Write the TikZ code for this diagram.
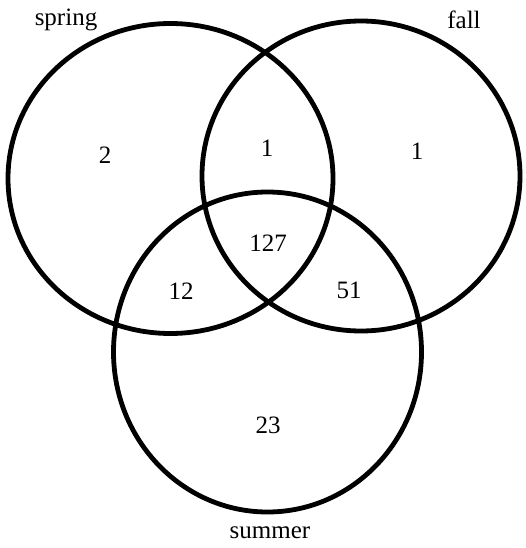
\documentclass[tikz,border=0pt]{standalone}
\usepackage{fontspec}
\setmainfont{Liberation Serif}
\begin{document}
\begin{tikzpicture}[x=1pt,y=-1pt,
  ring/.style={line width=4.8pt},
  lbl/.style={font=\fontsize{25}{28}\selectfont, inner sep=0pt}]
\useasboundingbox (0,0) rectangle (525,548);
\draw[ring] (170.5,178.5) ellipse [x radius=162.5, y radius=155];
\draw[ring] (361,176) ellipse [x radius=159, y radius=155];
\draw[ring] (267.5,352) ellipse [x radius=154, y radius=160];
\node[lbl] (spring) at (66,20) {spring};
\node[lbl] (fall) at (464,20) {fall};
\node[lbl] (summer) at (270,533) {summer};
\node[lbl] (a) at (105,155) {2};
\node[lbl] (b) at (267,148) {1};
\node[lbl] (c) at (417,151) {1};
\node[lbl] (d) at (268,243) {127};
\node[lbl] (e) at (181,291) {12};
\node[lbl] (f) at (349,290) {51};
\node[lbl] (g) at (268,425) {23};
\end{tikzpicture}
\end{document}
